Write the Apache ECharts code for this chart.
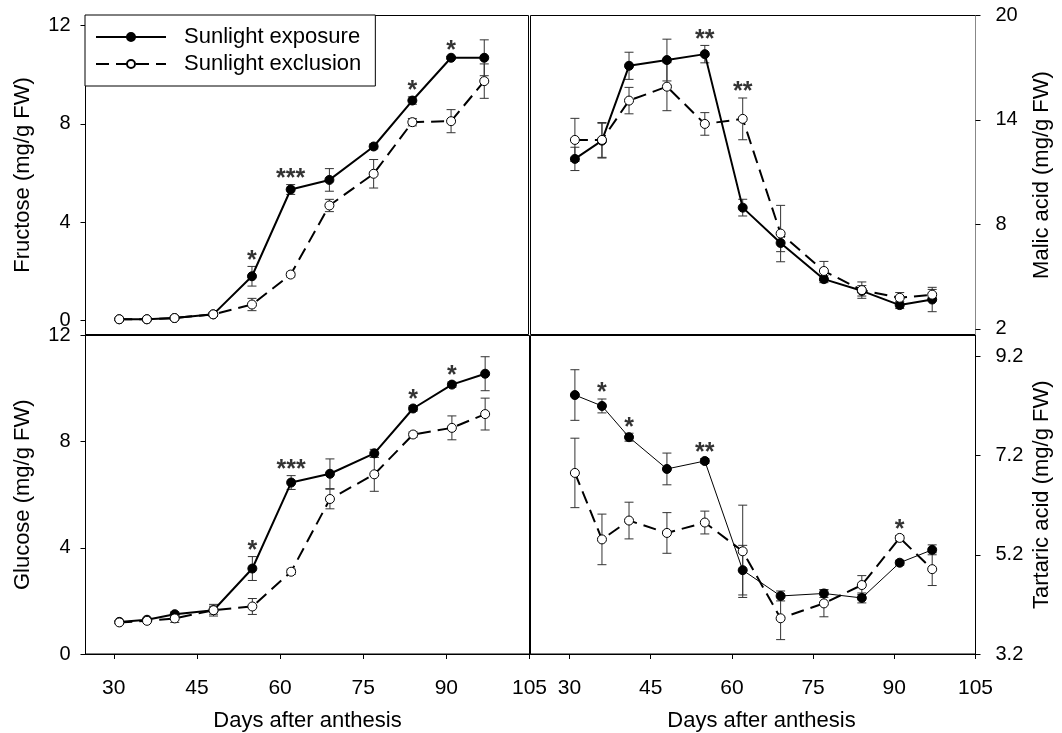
<!DOCTYPE html>
<html>
<head>
<meta charset="utf-8">
<script src="https://cdn.jsdelivr.net/npm/echarts@6/dist/echarts.min.js"></script>
<style>
html,body{margin:0;padding:0;background:#fff;}
#chart{width:1062px;height:733px;}
</style>
</head>
<body>
<div id="chart"></div>
<script>
// ---- data ----
const days = [31, 36, 41, 48, 55, 62, 69, 77, 84, 91, 97];
const xTicks = [30, 45, 60, 75, 90, 105];

const fructoseExpo    = [0.05, 0.05, 0.10, 0.25, 1.80, 5.33, 5.72, 7.08, 8.95, 10.69, 10.69];
const fructoseExpoErr = [0.03, 0.03, 0.05, 0.08, 0.40, 0.20, 0.46, 0.10, 0.15, 0.05, 0.73];
const fructoseExcl    = [0.05, 0.05, 0.10, 0.25, 0.65, 1.87, 4.68, 5.97, 8.07, 8.11, 9.74];
const fructoseExclErr = [0.03, 0.03, 0.05, 0.08, 0.25, 0.10, 0.25, 0.58, 0.15, 0.47, 0.70];
const fructoseSig     = ['', '', '', '', '*', '***', '', '', '*', '*', ''];
const fructoseTicks   = [0, 4, 8, 12];

const malicExpo    = [11.76, 12.81, 17.11, 17.44, 17.78, 8.96, 6.93, 4.85, 4.18, 3.36, 3.68];
const malicExpoErr = [0.67, 1.00, 0.78, 1.20, 0.50, 0.48, 0.50, 0.20, 0.30, 0.20, 0.70];
const malicExcl    = [12.85, 12.85, 15.11, 15.91, 13.77, 14.06, 7.47, 5.32, 4.22, 3.78, 3.96];
const malicExclErr = [1.24, 1.00, 0.76, 1.38, 0.65, 1.20, 1.62, 0.55, 0.47, 0.30, 0.30];
const malicSig     = ['', '', '', '', '**', '**', '', '', '', '', ''];
const malicTicks   = [2, 8, 14, 20];

const glucoseExpo    = [1.21, 1.29, 1.50, 1.65, 3.22, 6.46, 6.79, 7.56, 9.25, 10.15, 10.56];
const glucoseExpoErr = [0.05, 0.05, 0.08, 0.15, 0.45, 0.26, 0.56, 0.15, 0.10, 0.10, 0.64];
const glucoseExcl    = [1.19, 1.25, 1.34, 1.65, 1.79, 3.10, 5.84, 6.77, 8.27, 8.52, 9.04];
const glucoseExclErr = [0.05, 0.05, 0.15, 0.22, 0.30, 0.10, 0.37, 0.64, 0.10, 0.45, 0.60];
const glucoseSig     = ['', '', '', '', '*', '***', '', '', '*', '*', ''];
const glucoseTicks   = [0, 4, 8, 12];

const tartaricExpo    = [8.42, 8.20, 7.57, 6.93, 7.09, 4.89, 4.37, 4.42, 4.33, 5.04, 5.30];
const tartaricExpoErr = [0.51, 0.14, 0.08, 0.32, 0.05, 0.50, 0.10, 0.08, 0.10, 0.05, 0.10];
const tartaricExcl    = [6.85, 5.51, 5.89, 5.64, 5.85, 5.27, 3.92, 4.22, 4.59, 5.54, 4.91];
const tartaricExclErr = [0.70, 0.51, 0.37, 0.41, 0.23, 0.93, 0.43, 0.27, 0.19, 0.05, 0.33];
const tartaricSig     = ['', '*', '*', '', '**', '', '', '', '', '*', ''];
const tartaricTicks   = [3.2, 5.2, 7.2, 9.2];

const NAME_EXPO = 'Sunlight exposure';
const NAME_EXCL = 'Sunlight exclusion';
const FONT = '"Liberation Sans", Arial, sans-serif';

// ---- helpers ----
function errorSeries(idx, vals, errs, color) {
  return {
    type: 'custom', xAxisIndex: idx, yAxisIndex: idx, z: 1, silent: true,
    data: days.map((d, i) => [d, vals[i], errs[i]]),
    renderItem: function (params, api) {
      const x = api.value(0), y = api.value(1), e = api.value(2);
      const t = api.coord([x, y + e]), b = api.coord([x, y - e]);
      const w = 4.5;
      const style = { stroke: color, lineWidth: 1, fill: null };
      return { type: 'group', children: [
        { type: 'line', shape: { x1: t[0], y1: t[1], x2: b[0], y2: b[1] }, style: style },
        { type: 'line', shape: { x1: t[0] - w, y1: t[1], x2: t[0] + w, y2: t[1] }, style: style },
        { type: 'line', shape: { x1: b[0] - w, y1: b[1], x2: b[0] + w, y2: b[1] }, style: style }
      ]};
    }
  };
}
function panelSeries(idx, expo, expoErr, excl, exclErr, sig, expoWidth) {
  const sigData = [];
  days.forEach((d, i) => {
    if (sig[i]) {
      const top = Math.max(expo[i] + expoErr[i], excl[i] + exclErr[i]);
      sigData.push({ value: [d, top], label: { formatter: sig[i] } });
    }
  });
  return [
    errorSeries(idx, expo, expoErr, '#333'),
    errorSeries(idx, excl, exclErr, '#333'),
    {
      name: NAME_EXPO, type: 'line', xAxisIndex: idx, yAxisIndex: idx, z: 3,
      data: days.map((d, i) => [d, expo[i]]),
      symbol: 'circle', symbolSize: 9, showAllSymbol: true,
      lineStyle: { color: '#000', width: expoWidth, type: 'solid' },
      itemStyle: { color: '#000', borderColor: '#000', borderWidth: 1 }
    },
    {
      name: NAME_EXCL, type: 'line', xAxisIndex: idx, yAxisIndex: idx, z: 4,
      data: days.map((d, i) => [d, excl[i]]),
      symbol: 'circle', symbolSize: 9, showAllSymbol: true,
      lineStyle: { color: '#000', width: 2, type: [13, 7] },
      itemStyle: { color: '#fff', borderColor: '#000', borderWidth: 1 }
    },
    {
      type: 'scatter', xAxisIndex: idx, yAxisIndex: idx, z: 5, silent: true,
      symbolSize: 0, data: sigData,
      label: { show: true, position: 'top', distance: -7, fontSize: 25, fontWeight: 'bold',
               fontFamily: FONT, color: '#000' }
    }
  ];
}
function xAxisDef(idx, min, showLabels, nameOffset) {
  const ax = {
    type: 'value', gridIndex: idx, min: min, max: 105,
    splitLine: { show: false },
    axisLine: { show: showLabels, lineStyle: { color: '#000', width: 1 } },
    axisTick: { show: showLabels, customValues: xTicks, length: 5, lineStyle: { color: '#000' } },
    axisLabel: { show: showLabels, customValues: xTicks, margin: 24, fontSize: 21,
                 fontFamily: FONT, color: '#000' }
  };
  if (showLabels) {
    ax.name = 'Days after anthesis';
    ax.nameLocation = 'middle';
    ax.nameGap = 56;
    ax.nameTextStyle = { fontSize: 22, fontFamily: FONT, color: '#000',
                         padding: [0, 0, 0, nameOffset] };
  }
  return ax;
}
function yAxisDef(idx, min, max, ticks, pos, name, lineColor) {
  return {
    type: 'value', gridIndex: idx, min: min, max: max, position: pos,
    splitLine: { show: false },
    axisLine: { show: true, lineStyle: { color: lineColor, width: 1 } },
    axisTick: { show: true, customValues: ticks, length: 5, lineStyle: { color: '#000' } },
    axisLabel: { show: true, customValues: ticks, margin: pos === 'left' ? 15 : 20,
                 fontSize: 20, fontFamily: FONT, color: '#000' },
    name: name, nameLocation: 'middle', nameGap: pos === 'left' ? 52 : 55,
    nameTextStyle: { fontSize: 22, fontFamily: FONT, color: '#000' }
  };
}

const grid = [
  { left: 85.5,  top: 15.5,  width: 443, height: 319 },
  { left: 530.5, top: 15.5,  width: 445, height: 319 },
  { left: 85.5,  top: 335.5, width: 444, height: 320 },
  { left: 530.5, top: 335.5, width: 445, height: 320 }
].map(g => Object.assign(g, { show: true, borderColor: '#000', borderWidth: 1, backgroundColor: 'transparent' }));

const option = {
  animation: false,
  backgroundColor: '#fff',
  grid: grid,
  legend: {
    left: 85, top: 15, orient: 'vertical',
    backgroundColor: '#fff', borderColor: '#000', borderWidth: 1,
    padding: [11, 14, 11, 10], itemWidth: 70, itemHeight: 10, itemGap: 5,
    textStyle: { fontSize: 22, fontFamily: FONT, color: '#000', padding: [0, 0, 0, 13] },
    data: [NAME_EXPO, NAME_EXCL], selectedMode: false
  },
  xAxis: [
    xAxisDef(0, 24.9, false, 0),
    xAxisDef(1, 22.8, false, 0),
    xAxisDef(2, 24.9, true, 0),
    xAxisDef(3, 22.8, true, 17)
  ],
  yAxis: [
    yAxisDef(0, -0.57, 12.41, fructoseTicks, 'left', 'Fructose (mg/g FW)', '#000'),
    yAxisDef(1, 1.67, 20, malicTicks, 'right', 'Malic acid (mg/g FW)', '#888'),
    yAxisDef(2, 0, 12, glucoseTicks, 'left', 'Glucose (mg/g FW)', '#000'),
    yAxisDef(3, 3.2, 9.62, tartaricTicks, 'right', 'Tartaric acid (mg/g FW)', '#000')
  ],
  series: [].concat(
    panelSeries(0, fructoseExpo, fructoseExpoErr, fructoseExcl, fructoseExclErr, fructoseSig, 2),
    panelSeries(1, malicExpo, malicExpoErr, malicExcl, malicExclErr, malicSig, 2),
    panelSeries(2, glucoseExpo, glucoseExpoErr, glucoseExcl, glucoseExclErr, glucoseSig, 2),
    panelSeries(3, tartaricExpo, tartaricExpoErr, tartaricExcl, tartaricExclErr, tartaricSig, 1)
  )
};

const chart = echarts.init(document.getElementById('chart'), null, { renderer: 'canvas' });
chart.setOption(option);
</script>
</body>
</html>
